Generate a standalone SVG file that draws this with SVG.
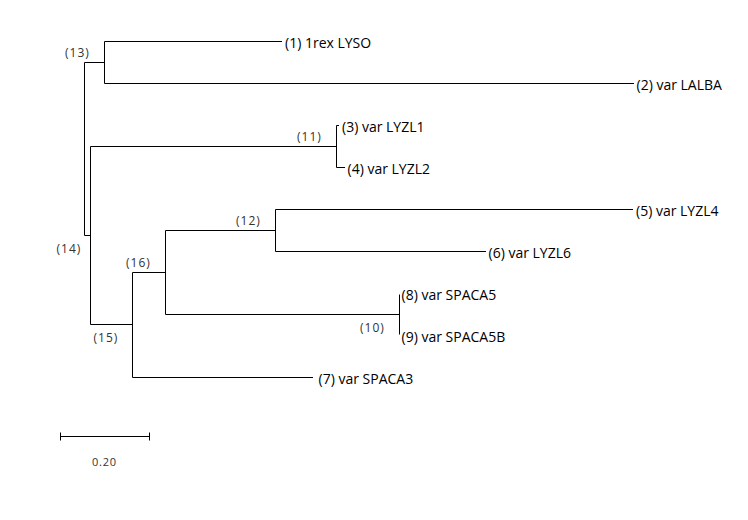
<svg xmlns="http://www.w3.org/2000/svg" width="748" height="520" viewBox="0 0 748 520">
<style>
.e{stroke:#000;stroke-width:1;fill:none}
.leaf{font-family:"Open Sans","Liberation Sans",sans-serif;font-size:14px;fill:#000}
.nl{font-family:"Open Sans","Liberation Sans",sans-serif;font-size:12px;letter-spacing:1px;fill:#333}
.sc{font-family:"Open Sans","Liberation Sans",sans-serif;font-size:11px;letter-spacing:0.8px;fill:#333}
</style>
<rect width="748" height="520" fill="#fff"/>
<g id="connectors">
<path class="e" d="M84.5,62.5V235.5 M84.5,62.5H104.5 M84.5,235.5H90.5"/>
<path class="e" d="M104.5,41.5V83.5 M104.5,41.5H282 M104.5,83.5H634"/>
<path class="e" d="M90.5,146.5V324.5 M90.5,146.5H336.5 M90.5,324.5H132.5"/>
<path class="e" d="M336.5,125.5V167.5 M336.5,125.5H339 M336.5,167.5H345"/>
<path class="e" d="M132.5,272.5V377.5 M132.5,272.5H165.5 M132.5,377.5H313"/>
<path class="e" d="M165.5,230.5V314.5 M165.5,230.5H275.5 M165.5,314.5H399.5"/>
<path class="e" d="M275.5,209.5V251.5 M275.5,209.5H633 M275.5,251.5H486"/>
<path class="e" d="M399.5,294.5V334.5"/>
</g>
<g id="node13"><text class="nl" x="65" y="57">(13)</text></g>
<g id="node14"><text class="nl" x="56.5" y="252.5">(14)</text></g>
<g id="node11"><text class="nl" x="297" y="140.5">(11)</text></g>
<g id="node15"><text class="nl" x="93.5" y="341.5">(15)</text></g>
<g id="node16"><text class="nl" x="126" y="266.5">(16)</text></g>
<g id="node12"><text class="nl" x="236" y="225">(12)</text></g>
<g id="node10"><text class="nl" x="360" y="331.5">(10)</text></g>
<g id="leaf1"><text class="leaf" x="285" y="47.5">(1) 1rex LYSO</text></g>
<g id="leaf2"><text class="leaf" x="636.5" y="89.5">(2) var LALBA</text></g>
<g id="leaf3"><text class="leaf" x="342" y="131.5">(3) var LYZL1</text></g>
<g id="leaf4"><text class="leaf" x="347.5" y="173.5">(4) var LYZL2</text></g>
<g id="leaf5"><text class="leaf" x="636" y="215.5">(5) var LYZL4</text></g>
<g id="leaf6"><text class="leaf" x="488.5" y="257.5">(6) var LYZL6</text></g>
<g id="leaf7"><text class="leaf" x="318.5" y="383.5">(7) var SPACA3</text></g>
<g id="leaf8"><text class="leaf" x="401.5" y="300">(8) var SPACA5</text></g>
<g id="leaf9"><text class="leaf" x="401.5" y="341.5">(9) var SPACA5B</text></g>
<g id="scale">
<path class="e" d="M60.5,436.5H149.5 M60.5,432.5V440.5 M149.5,432.5V440.5"/>
<text class="sc" x="92" y="466">0.20</text>
</g>
</svg>
